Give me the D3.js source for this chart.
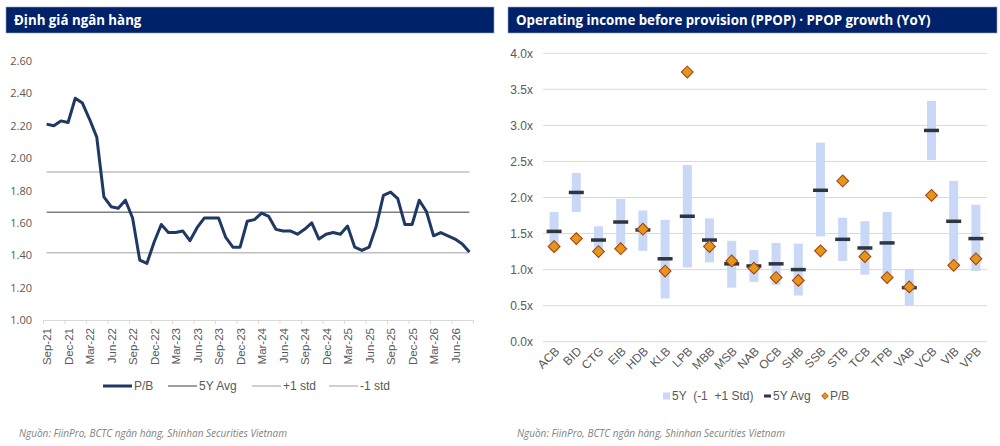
<!DOCTYPE html>
<html>
<head>
<meta charset="utf-8">
<script src="https://cdn.jsdelivr.net/npm/d3@7"></script>
<style>
  body { margin: 0; background: #fff; }
  text { font-family: "Liberation Sans", Arial, sans-serif; }
</style>
</head>
<body>
<script>
// ---- Left chart data: monthly P/B, Sep-21 .. Aug-26
const months = d3.timeMonth.range(new Date(2021, 8, 1), new Date(2026, 8, 1)).map(d3.timeFormat("%b-%y"));
const pbValues = [
  2.21, 2.20, 2.23, 2.22, 2.37, 2.34, 2.24, 2.13, 1.76, 1.70,
  1.69, 1.74, 1.63, 1.37, 1.35, 1.48, 1.59, 1.54, 1.54, 1.55,
  1.49, 1.57, 1.63, 1.63, 1.63, 1.51, 1.45, 1.45, 1.61, 1.62,
  1.66, 1.64, 1.56, 1.55, 1.55, 1.53, 1.56, 1.60, 1.50, 1.53,
  1.54, 1.53, 1.58, 1.45, 1.43, 1.45, 1.58, 1.77, 1.79, 1.75,
  1.59, 1.59, 1.74, 1.67, 1.52, 1.54, 1.52, 1.50, 1.47, 1.42
];
const avg5y = 1.665;
const std5y = 0.25;
const leftYTicks = [1.0, 1.2, 1.4, 1.6, 1.8, 2.0, 2.2, 2.4, 2.6];

// ---- Right chart data: banks
const banks = ["ACB","BID","CTG","EIB","HDB","KLB","LPB","MBB","MSB","NAB","OCB","SHB","SSB","STB","TCB","TPB","VAB","VCB","VIB","VPB"];
const bandLow  = [1.26, 1.80, 1.23, 1.34, 1.26, 0.60, 1.03, 1.10, 0.75, 0.83, 0.79, 0.64, 1.46, 1.12, 0.93, 0.93, 0.50, 2.52, 1.12, 0.98];
const bandHigh = [1.80, 2.34, 1.60, 1.98, 1.82, 1.69, 2.45, 1.71, 1.40, 1.27, 1.37, 1.36, 2.76, 1.72, 1.67, 1.80, 1.01, 3.34, 2.23, 1.90];
const bankAvg  = [1.53, 2.07, 1.41, 1.66, 1.55, 1.15, 1.74, 1.41, 1.08, 1.05, 1.08, 1.00, 2.10, 1.42, 1.30, 1.37, 0.75, 2.93, 1.67, 1.43];
const bankPB   = [1.32, 1.43, 1.25, 1.29, 1.56, 0.98, 3.74, 1.32, 1.12, 1.02, 0.89, 0.85, 1.26, 2.23, 1.18, 0.89, 0.76, 2.03, 1.06, 1.15];
const rightYTicks = [0, 0.5, 1.0, 1.5, 2.0, 2.5, 3.0, 3.5, 4.0];

const navy = "#00226a";
const labelGray = "#595959";
const gridGray = "#d9d9d9";

const svg = d3.select("body").append("svg")
  .attr("width", 1000)
  .attr("height", 446);

// ---------- title bars
function titleBar(x, w, label) {
  svg.append("rect")
    .attr("x", x).attr("y", 7).attr("width", w).attr("height", 26)
    .attr("fill", navy).attr("stroke", "#8ea3c8").attr("stroke-width", 0.6);
  svg.append("text")
    .attr("x", x + 8).attr("y", 25)
    .attr("fill", "#fff")
    .style("font-family", "'Open Sans', sans-serif")
    .style("font-weight", "bold")
    .style("font-size", "13.3px")
    .text(label);
}
titleBar(6, 488, "Định giá ngân hàng");
titleBar(508, 489, "Operating income before provision (PPOP) · PPOP growth (YoY)");

// ---------- LEFT CHART
const xL = d3.scaleLinear().domain([0, months.length]).range([43, 473]);
const yL = d3.scaleLinear().domain([1.0, 2.6]).range([320, 61]);

// y labels
svg.append("g")
  .attr("transform", "translate(36,0)")
  .call(d3.axisLeft(yL).tickValues(leftYTicks).tickSize(0).tickPadding(4).tickFormat(d3.format(".2f")))
  .call(g => g.select(".domain").remove())
  .call(g => g.selectAll("text")
    .attr("fill", labelGray)
    .style("font-family", "'Open Sans', sans-serif")
    .style("font-size", "11px"));

// x axis line and ticks (every quarter)
svg.append("g")
  .attr("transform", "translate(0,320)")
  .call(d3.axisBottom(xL).tickValues(d3.range(0, months.length + 1, 3)).tickSize(4).tickFormat(""))
  .call(g => g.select(".domain").attr("stroke", gridGray))
  .call(g => g.selectAll(".tick line").attr("stroke", gridGray));

// x labels (rotated)
svg.append("g")
  .attr("transform", "translate(0,320)")
  .call(d3.axisBottom(xL)
    .tickValues(d3.range(0, months.length, 3).map(i => i + 0.5))
    .tickSize(0)
    .tickFormat(i => months[i - 0.5]))
  .call(g => g.select(".domain").remove())
  .call(g => g.selectAll("text")
    .attr("fill", labelGray)
    .style("font-size", "11.5px")
    .style("text-anchor", "end")
    .attr("transform", "rotate(-90)")
    .attr("x", -8)
    .attr("y", 0)
    .attr("dy", "0.35em"));

// reference lines
const refLines = [
  { v: avg5y + std5y, c: "#bfbfbf", w: 1.5 },
  { v: avg5y, c: "#7f7f7f", w: 1.5 },
  { v: avg5y - std5y, c: "#bfbfbf", w: 1.5 }
];
svg.append("g").selectAll("line")
  .data(refLines)
  .join("line")
  .attr("x1", xL(0.5)).attr("x2", xL(months.length - 0.5))
  .attr("y1", d => yL(d.v)).attr("y2", d => yL(d.v))
  .attr("stroke", d => d.c)
  .attr("stroke-width", d => d.w);

// P/B line
const lineL = d3.line()
  .x((d, i) => xL(i + 0.5))
  .y(d => yL(d));
svg.append("path")
  .datum(pbValues)
  .attr("d", lineL)
  .attr("fill", "none")
  .attr("stroke", "#1f3864")
  .attr("stroke-width", 3)
  .attr("stroke-linejoin", "round");

// left legend
const legL = [
  { label: "P/B", x: 103, c: "#1f3864", w: 3 },
  { label: "5Y Avg", x: 168, c: "#7f7f7f", w: 1.5 },
  { label: "+1 std", x: 252, c: "#bfbfbf", w: 1.5 },
  { label: "-1 std", x: 329, c: "#bfbfbf", w: 1.5 }
];
const legLG = svg.append("g").selectAll("g").data(legL).join("g")
  .attr("transform", d => `translate(${d.x},386)`);
legLG.append("line")
  .attr("x1", 0).attr("x2", 29)
  .attr("stroke", d => d.c).attr("stroke-width", d => d.w);
legLG.append("text")
  .attr("x", 31).attr("dy", "0.35em")
  .attr("fill", labelGray)
  .style("font-size", "12px")
  .text(d => d.label);

// ---------- RIGHT CHART
const xR = d3.scaleBand().domain(banks).range([543, 987]);
const yR = d3.scaleLinear().domain([0, 4]).range([341.7, 53.3]);

// gridlines
svg.append("g").selectAll("line")
  .data(rightYTicks)
  .join("line")
  .attr("x1", 543).attr("x2", 987)
  .attr("y1", d => yR(d)).attr("y2", d => yR(d))
  .attr("stroke", gridGray)
  .attr("stroke-width", 1);

// y labels
svg.append("g")
  .attr("transform", "translate(537,0)")
  .call(d3.axisLeft(yR).tickValues(rightYTicks).tickSize(0).tickPadding(4).tickFormat(d => d3.format(".1f")(d) + "x"))
  .call(g => g.select(".domain").remove())
  .call(g => g.selectAll("text")
    .attr("fill", labelGray)
    .style("font-size", "12px"));

// x labels (rotated 45)
svg.append("g").selectAll("text")
  .data(banks)
  .join("text")
  .attr("transform", d => `translate(${xR(d) + xR.bandwidth() / 2 + 3},349) rotate(-45)`)
  .attr("dy", "0.35em")
  .attr("fill", labelGray)
  .style("font-size", "12px")
  .style("text-anchor", "end")
  .text(d => d);

const bc = i => xR(banks[i]) + xR.bandwidth() / 2;

// std bands
svg.append("g").selectAll("rect")
  .data(banks)
  .join("rect")
  .attr("x", (d, i) => bc(i) - 4.5)
  .attr("width", 9)
  .attr("y", (d, i) => yR(bandHigh[i]))
  .attr("height", (d, i) => yR(bandLow[i]) - yR(bandHigh[i]))
  .attr("fill", "#c9d8f7");

// avg markers
svg.append("g").selectAll("rect")
  .data(banks)
  .join("rect")
  .attr("x", (d, i) => bc(i) - 7.5)
  .attr("width", 15)
  .attr("y", (d, i) => yR(bankAvg[i]) - 1.75)
  .attr("height", 3.5)
  .attr("fill", "#2f3640");

// P/B diamonds
const diamond = d3.symbol(d3.symbolSquare, 70);
svg.append("g").selectAll("path")
  .data(banks)
  .join("path")
  .attr("d", diamond)
  .attr("transform", (d, i) => `translate(${bc(i)},${yR(bankPB[i])}) rotate(45)`)
  .attr("fill", "#e3961b")
  .attr("stroke", "#a63b0c")
  .attr("stroke-width", 1);

// right legend
const legR = svg.append("g").attr("transform", "translate(0,396)");
legR.append("rect").attr("x", 663).attr("y", -3.5).attr("width", 7).attr("height", 7).attr("fill", "#c9d8f7");
legR.append("text").attr("x", 672).attr("dy", "0.35em").attr("fill", labelGray)
  .style("font-size", "12px").style("white-space", "pre").text("5Y  (-1  +1 Std)");
legR.append("rect").attr("x", 764).attr("y", -1.5).attr("width", 7).attr("height", 3).attr("fill", "#2f3640");
legR.append("text").attr("x", 773).attr("dy", "0.35em").attr("fill", labelGray)
  .style("font-size", "12px").text("5Y Avg");
legR.append("path").attr("d", d3.symbol(d3.symbolSquare, 22))
  .attr("transform", "translate(825,0) rotate(45)")
  .attr("fill", "#e3961b").attr("stroke", "#a63b0c").attr("stroke-width", 0.8);
legR.append("text").attr("x", 830).attr("dy", "0.35em").attr("fill", labelGray)
  .style("font-size", "12px").text("P/B");

// ---------- sources
const src = "Nguồn: FiinPro, BCTC ngân hàng, Shinhan Securities Vietnam";
[19, 517].forEach(x => {
  svg.append("text")
    .attr("x", x).attr("y", 437)
    .attr("fill", "#7f7f7f")
    .style("font-family", "'Open Sans', sans-serif")
    .style("font-style", "italic")
    .style("font-size", "10px")
    .text(src);
});
</script>
</body>
</html>
